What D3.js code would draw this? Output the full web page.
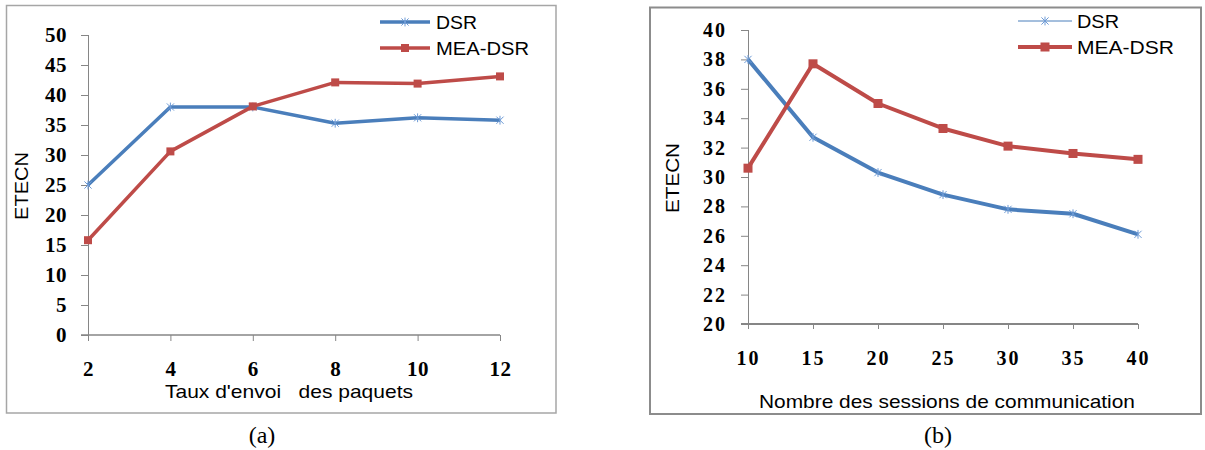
<!DOCTYPE html>
<html><head><meta charset="utf-8">
<script src="https://cdn.jsdelivr.net/npm/d3@7"></script>
<style>
html,body{margin:0;padding:0;background:#fff;}
svg{display:block;}
text{white-space:pre;}
</style></head>
<body>
<svg id="chart" width="1205" height="450"></svg>
<script>
// ---- data ----
const seriesNames = ["DSR", "MEA-DSR"];
const leftCategories = [2, 4, 6, 8, 10, 12];
const leftDSR = [25.0, 38.0, 38.0, 35.3, 36.2, 35.8];
const leftMEA = [15.8, 30.6, 38.1, 42.1, 41.9, 43.1];
const leftYTicks = [0, 5, 10, 15, 20, 25, 30, 35, 40, 45, 50];
const leftXTitle = "Taux d'envoi   des paquets";
const leftCaption = "(a)";

const rightCategories = [10, 15, 20, 25, 30, 35, 40];
const rightDSR = [38.0, 32.7, 30.3, 28.8, 27.8, 27.5, 26.1];
const rightMEA = [30.6, 37.7, 35.0, 33.3, 32.1, 31.6, 31.2];
const rightYTicks = [20, 22, 24, 26, 28, 30, 32, 34, 36, 38, 40];
const rightXTitle = "Nombre des sessions de communication";
const rightCaption = "(b)";
const yTitle = "ETECN";

// ---- styles ----
const BLUE = "#4a7ebb", RED = "#be4b48", STAR = "#6e9bd6", AXIS = "#868686";
const svg = d3.select("#chart");

function starPath(s) {
  return `M${-s},${-s}L${s},${s}M${-s},${s}L${s},${-s}M0,${-s-0.8}L0,${s+0.8}`;
}

function panel(cfg) {
  const g = svg.append("g");
  g.append("rect").attr("x", cfg.frame[0]).attr("y", cfg.frame[1])
    .attr("width", cfg.frame[2] - cfg.frame[0]).attr("height", cfg.frame[3] - cfg.frame[1])
    .attr("fill", "none").attr("stroke", cfg.frameColor).attr("stroke-width", cfg.frameWidth);

  const x = d3.scaleLinear().domain(d3.extent(cfg.cats)).range([cfg.x0, cfg.x1]);
  const y = d3.scaleLinear().domain(d3.extent(cfg.yTicks)).range([cfg.y0, cfg.y1]);

  const ya = g.append("g").attr("transform", `translate(${cfg.x0},0)`)
    .call(d3.axisLeft(y).tickValues(cfg.yTicks).tickSize(7).tickPadding(cfg.yPad).tickFormat(d3.format("d")));
  ya.attr("font-size", null).attr("font-family", null);
  ya.select(".domain").attr("stroke", AXIS).attr("stroke-width", 1).attr("d", `M0.5,${cfg.y1}V${cfg.y0}`);
  ya.selectAll(".tick line").attr("stroke", AXIS);
  ya.selectAll(".tick text").style("font-family", "'Liberation Serif', serif").style("font-weight", "bold")
    .style("font-size", cfg.tickFont + "px").style("letter-spacing", cfg.tickLS + "px").attr("fill", "#000");

  const xa = g.append("g").attr("transform", `translate(0,${cfg.y0})`)
    .call(d3.axisBottom(x).tickValues(cfg.cats).tickSize(cfg.xTick).tickPadding(cfg.xPad).tickFormat(d3.format("d")));
  xa.attr("font-size", null).attr("font-family", null);
  xa.select(".domain").attr("stroke", AXIS).attr("stroke-width", cfg.xAxisW).attr("d", `M${cfg.x0 - 7},0H${cfg.x1}`);
  xa.selectAll(".tick line").attr("stroke", AXIS);
  xa.selectAll(".tick text").style("font-family", "'Liberation Serif', serif").style("font-weight", "bold")
    .style("font-size", cfg.tickFont + "px").style("letter-spacing", cfg.tickLS + "px").attr("fill", "#000");

  const line = d3.line().x((d, i) => x(cfg.cats[i])).y(d => y(d));
  g.append("path").datum(cfg.dsr).attr("d", line).attr("fill", "none").attr("stroke", BLUE)
    .attr("stroke-width", cfg.lineW).attr("stroke-linejoin", "round");
  g.append("path").datum(cfg.mea).attr("d", line).attr("fill", "none").attr("stroke", RED)
    .attr("stroke-width", cfg.lineW).attr("stroke-linejoin", "round");
  g.selectAll(".star").data(cfg.dsr).enter().append("path")
    .attr("transform", (d, i) => `translate(${x(cfg.cats[i])},${y(d)})`)
    .attr("d", starPath(3.6)).attr("stroke", STAR).attr("stroke-width", 1).attr("fill", "none");
  const ms = cfg.sq;
  g.selectAll(".sq").data(cfg.mea).enter().append("rect")
    .attr("x", (d, i) => x(cfg.cats[i]) - ms / 2).attr("y", d => y(d) - ms / 2)
    .attr("width", ms).attr("height", ms).attr("fill", RED);

  const lg = g.append("g");
  seriesNames.forEach((name, i) => {
    const ly = cfg.legY[i];
    const lx0 = cfg.legX[0], lx1 = cfg.legX[1], mid = (lx0 + lx1) / 2;
    lg.append("line").attr("x1", lx0).attr("x2", lx1).attr("y1", ly).attr("y2", ly)
      .attr("stroke", i === 0 ? BLUE : RED).attr("stroke-width", cfg.legW[i]);
    if (i === 0) {
      lg.append("path").attr("transform", `translate(${mid},${ly})`).attr("d", starPath(3.6))
        .attr("stroke", STAR).attr("stroke-width", 1).attr("fill", "none");
    } else {
      lg.append("rect").attr("x", mid - ms / 2).attr("y", ly - ms / 2).attr("width", ms).attr("height", ms).attr("fill", RED);
    }
    lg.append("text").attr("x", cfg.legTextX).attr("y", ly).attr("dy", "0.36em")
      .attr("font-family", "'Liberation Sans', Arial, sans-serif").attr("font-size", cfg.legFont)
      .attr("textLength", cfg.legLen[i]).attr("lengthAdjust", "spacingAndGlyphs")
      .attr("fill", "#000").text(name);
  });

  g.append("text").attr("x", cfg.xtX).attr("y", cfg.xtY).attr("dy", "0.36em").attr("text-anchor", "middle")
    .attr("font-family", "'Liberation Sans', Arial, sans-serif").attr("font-size", cfg.xtFont)
    .attr("textLength", cfg.xtLen).attr("lengthAdjust", "spacingAndGlyphs").attr("fill", "#000").text(cfg.xTitle);
  g.append("text").attr("transform", `translate(${cfg.ytX},${cfg.ytY}) rotate(-90)`).attr("dy", "0.36em")
    .attr("text-anchor", "middle").attr("font-family", "'Liberation Sans', Arial, sans-serif").attr("font-size", cfg.ytFont)
    .attr("textLength", cfg.ytLen).attr("lengthAdjust", "spacingAndGlyphs").attr("fill", "#000").text(yTitle);
  g.append("text").attr("x", cfg.capX).attr("y", cfg.capY).attr("dy", "0.36em").attr("text-anchor", "middle")
    .attr("font-family", "'Liberation Serif', 'Times New Roman', serif").attr("font-size", 24).attr("fill", "#000").text(cfg.caption);
}

panel({
  cats: leftCategories, dsr: leftDSR, mea: leftMEA, yTicks: leftYTicks,
  xTitle: leftXTitle, caption: leftCaption,
  frame: [6.5, 5.5, 556, 413], frameColor: "#a6a6a6", frameWidth: 1.5,
  x0: 88, x1: 500, y0: 335, y1: 35,
  yPad: 14, xTick: 6, xPad: 20, xAxisW: 1.5, tickFont: 21, tickLS: 0.5,
  lineW: 3.5, sq: 8,
  legX: [380, 430], legY: [22, 48], legW: [3.5, 3.5], legTextX: 436, legFont: 19, legLen: [41, 93],
  xtX: 289, xtY: 391, xtFont: 19, xtLen: 248,
  ytX: 22, ytY: 186, ytFont: 18, ytLen: 68,
  capX: 262, capY: 434
});

panel({
  cats: rightCategories, dsr: rightDSR, mea: rightMEA, yTicks: rightYTicks,
  xTitle: rightXTitle, caption: rightCaption,
  frame: [650, 7.5, 1201, 414], frameColor: "#8c8c8c", frameWidth: 2,
  x0: 748, x1: 1138, y0: 324, y1: 30,
  yPad: 14, xTick: 5, xPad: 22, xAxisW: 2, tickFont: 20, tickLS: 2,
  lineW: 4, sq: 9,
  legX: [1018, 1072], legY: [21, 47], legW: [1, 4], legTextX: 1077, legFont: 19, legLen: [42, 97],
  xtX: 947, xtY: 401, xtFont: 19, xtLen: 376,
  ytX: 673, ytY: 178, ytFont: 18, ytLen: 70,
  capX: 938, capY: 434
});
</script>
</body></html>
